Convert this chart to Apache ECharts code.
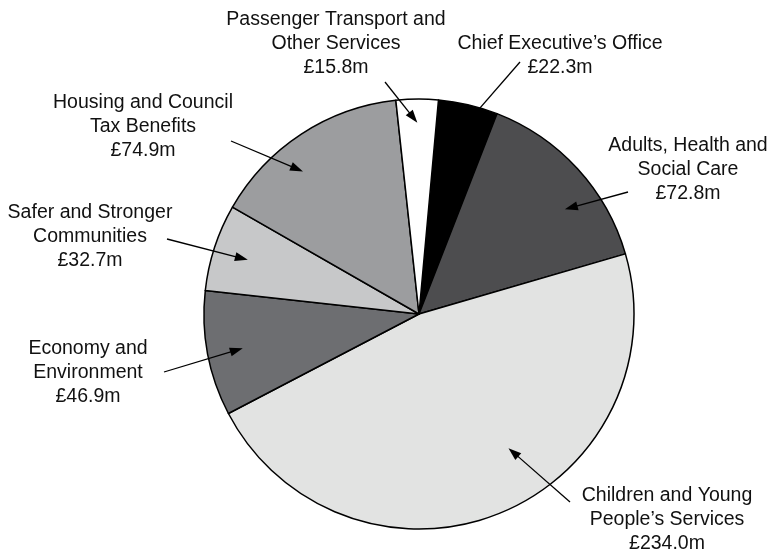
<!DOCTYPE html>
<html>
<head>
<meta charset="utf-8">
<script src="https://cdn.jsdelivr.net/npm/echarts@6/dist/echarts.min.js"></script>
<style>html,body{margin:0;padding:0;background:#fff}#pie{width:772px;height:555px}</style>
</head>
<body>
<div id="pie"></div>
<script>
// data
var categories = ['Chief Executive’s Office', 'Adults, Health and\nSocial Care', 'Children and Young\nPeople’s Services',
    'Economy and\nEnvironment', 'Safer and Stronger\nCommunities', 'Housing and Council\nTax Benefits',
    'Passenger Transport and\nOther Services'];
var spend = [22.3, 72.8, 234.0, 46.9, 32.7, 74.9, 15.8];

// styles / layout
var shades = ['#000000', '#4d4d4f', '#e2e3e2', '#6d6e71', '#c7c8c9', '#9c9d9f', '#ffffff'];
var labelPos = [[560, 56], [688, 170], [667, 520], [88, 373], [90, 237], [143, 127], [336, 44]];
var arrowTail = [[520, 62], [628, 192], [570, 502], [164, 372], [167, 239], [231, 141], [385, 82]];
// arrow tip inside each slice: [share of slice angle, share of radius]
var arrowTip = [[0.5, 0.89], [0.63, 0.835], [0.43, 0.75], [0.49, 0.835], [0.48, 0.835], [0.39, 0.855], [0.5, 0.89]];
var font = "'Liberation Sans', Arial, sans-serif";

var myChart = echarts.init(document.getElementById('pie'));

var option = {
    animation: false,
    series: [{
        type: 'pie',
        center: [419, 314],
        radius: 215,
        startAngle: 84.8,
        clockwise: true,
        avoidLabelOverlap: false,
        data: categories.map(function (name, i) {
            return { name: name, value: spend[i], itemStyle: { color: shades[i] } };
        }),
        itemStyle: { borderColor: '#000', borderWidth: 1.5 },
        label: {
            show: true,
            formatter: function (p) { return p.name + '\n£' + p.value.toFixed(1) + 'm'; },
            fontFamily: font,
            fontSize: 19.5,
            lineHeight: 24,
            color: '#111',
            align: 'center'
        },
        labelLine: { show: false },
        labelLayout: function (p) {
            return { x: labelPos[p.dataIndex][0], y: labelPos[p.dataIndex][1], align: 'center', verticalAlign: 'middle' };
        },
        emphasis: { disabled: true }
    }]
};
myChart.setOption(option);

// 箭头：从标签指向扇区内部
var data = myChart.getModel().getSeriesByIndex(0).getData();
var arrows = [];
for (var i = 0; i < spend.length; i++) {
    var lay = data.getItemLayout(i);
    var a = lay.startAngle + arrowTip[i][0] * (lay.endAngle - lay.startAngle);
    var tx = lay.cx + arrowTip[i][1] * lay.r * Math.cos(a);
    var ty = lay.cy + arrowTip[i][1] * lay.r * Math.sin(a);
    var sx = arrowTail[i][0], sy = arrowTail[i][1];
    var dx = tx - sx, dy = ty - sy, len = Math.sqrt(dx * dx + dy * dy);
    var ux = dx / len, uy = dy / len;
    var hl = 13, hw = 4.5;
    arrows.push({
        type: 'line', silent: true, z: 100,
        shape: { x1: sx, y1: sy, x2: tx - ux * hl * 0.7, y2: ty - uy * hl * 0.7 },
        style: { stroke: '#000', lineWidth: 1.3 }
    });
    arrows.push({
        type: 'polygon', silent: true, z: 100,
        shape: { points: [[tx, ty], [tx - ux * hl - uy * hw, ty - uy * hl + ux * hw], [tx - ux * hl + uy * hw, ty - uy * hl - ux * hw]] },
        style: { fill: '#000' }
    });
}
myChart.setOption({ graphic: arrows });
</script>
</body>
</html>
